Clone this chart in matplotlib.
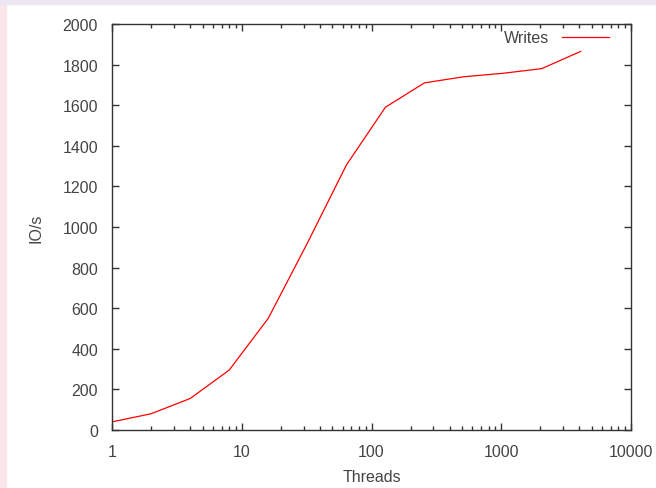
import matplotlib.pyplot as plt
from matplotlib.patches import Rectangle

# threads vs write rate
threads = [1, 2, 4, 8, 16, 32, 64, 128, 256, 512, 1024, 2048, 4096]
writes = [40, 80, 155, 295, 550, 920, 1305, 1590, 1710, 1740, 1757, 1780, 1865]
yticks = [0, 200, 400, 600, 800, 1000, 1200, 1400, 1600, 1800, 2000]
xticks = [1, 10, 100, 1000, 10000]
xticklabels = ['1', '10', '100', '1000', '10000']

plt.rcParams['font.family'] = ['Liberation Sans', 'DejaVu Sans']

fig = plt.figure(figsize=(6.56, 4.89), dpi=100)
fig.patch.set_facecolor('white')
# coloured page border at the top and left
fig.patches.append(Rectangle((0, 0), 6 / 656, 1, transform=fig.transFigure,
                             color='#fbe6ea', zorder=0))
fig.patches.append(Rectangle((0, 1 - 5 / 489), 1, 5 / 489, transform=fig.transFigure,
                             color='#eee6f2', zorder=0))

ax = fig.add_axes([112 / 656, 1 - 431 / 489, 519 / 656, 406 / 489])
ax.plot(threads, writes, color='#ff0000', linewidth=0.9, label='Writes')
ax.set_xscale('log')
ax.set_xlim(1, 10000)
ax.set_ylim(0, 2000)
ax.set_xticks(xticks)
ax.set_xticklabels(xticklabels)
ax.set_yticks(yticks)

for s in ax.spines.values():
    s.set_color('#333333')
    s.set_linewidth(1.0)
ax.tick_params(axis='both', which='major', direction='in', length=5, width=1,
               top=True, right=True, labelsize=11.5, labelcolor='#444444', color='#333333')
ax.tick_params(axis='y', which='major', pad=10)
ax.tick_params(axis='x', which='major', pad=10)
ax.tick_params(axis='x', which='minor', direction='in', length=3, width=1,
               top=True, bottom=True, color='#333333')
ax.tick_params(axis='y', which='minor', left=False, right=False)

ax.set_xlabel('Threads', fontsize=11.5, color='#444444', labelpad=7)
ax.set_ylabel('IO/s', fontsize=11.5, color='#444444', labelpad=14)

ax.legend(loc='upper right', frameon=False, fontsize=11.5, handlelength=3.0,
          borderaxespad=0.3, handletextpad=0.8, labelcolor='#444444',
          markerfirst=False, bbox_to_anchor=(0.98, 1.012))

fig.savefig('out.png', dpi=100)
